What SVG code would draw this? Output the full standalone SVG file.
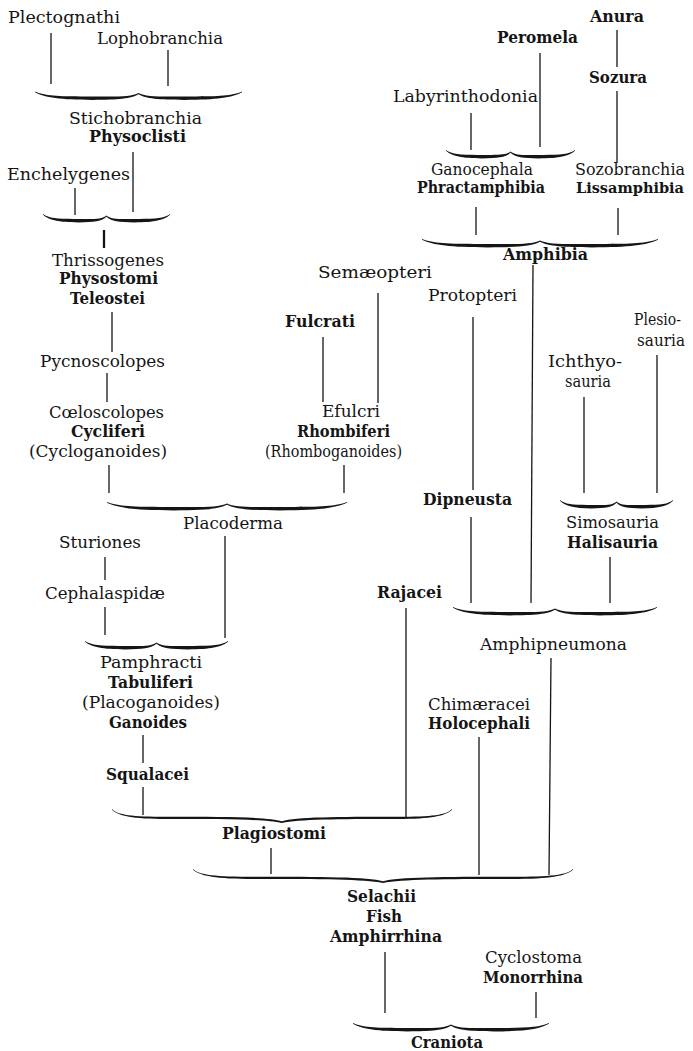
<svg xmlns="http://www.w3.org/2000/svg" width="693" height="1051" viewBox="0 0 693 1051">
<style>
text{font-family:"DejaVu Serif","Liberation Serif",serif;fill:#151515;font-size:17px}
text.b{font-weight:bold;font-size:16px}
text.s{font-size:14.5px}
.c line{stroke:#151515;stroke-width:1.3;fill:none}
.c use{fill:#151515}
</style>
<defs>
<path id="braceUp" d="M0,-7 C5,-2.4 12,-2 28,-2.1 C40,-2 46.5,-1.6 50,-5.6 C53.5,-1.6 60,-2 72,-2.1 C88,-2 95,-2.4 100,-7 L100,-6.2 C95,-0.8 88,1.4 72,1.4 C60,1.3 53.5,0.3 50,-4.2 C46.5,0.3 40,1.3 28,1.4 C12,1.4 5,-0.8 0,-6.2 Z"/>
<path id="braceDown" d="M0,-9 C1.5,-3 6,-1.2 16,-1.2 C34,-1.2 46,-1 50,3.2 C54,-1 66,-1.2 84,-1.2 C94,-1.2 98.5,-3 100,-9 L100,-8.2 C98,-2 94,1 84,1 C66,1 55,1.2 50,5 C45,1.2 34,1 16,1 C6,1 2,-2 0,-8.2 Z"/>
</defs>
<rect width="693" height="1051" fill="#fff"/>
<g class="c" id="connectors">
<line x1="51" y1="33" x2="51" y2="84"/>
<line x1="168" y1="50" x2="168" y2="86"/>
<use href="#braceUp" transform="translate(35,98.5) scale(2.07,1)"/>
<line x1="133" y1="152" x2="133" y2="212"/>
<line x1="75" y1="188" x2="75" y2="215"/>
<use href="#braceUp" transform="translate(43,221) scale(1.27,1)"/>
<line x1="104" y1="230" x2="104" y2="248" style="stroke-width:2.3"/>
<line x1="112" y1="312" x2="112" y2="352"/>
<line x1="107" y1="373" x2="107" y2="402"/>
<line x1="109" y1="465" x2="109" y2="493"/>
<line x1="323" y1="337" x2="323" y2="402"/>
<line x1="378" y1="293" x2="378" y2="403"/>
<line x1="344" y1="465" x2="344" y2="493"/>
<use href="#braceUp" transform="translate(107,509) scale(2.4,1)"/>
<line x1="225" y1="536" x2="225" y2="638"/>
<line x1="105" y1="557" x2="105" y2="580"/>
<line x1="105" y1="607" x2="105" y2="635"/>
<use href="#braceUp" transform="translate(85,648) scale(1.43,1)"/>
<line x1="143" y1="735" x2="143" y2="763"/>
<line x1="143" y1="787" x2="143" y2="815"/>
<line x1="406" y1="608" x2="406" y2="817"/>
<use href="#braceDown" transform="translate(112,818) scale(3.4,1)"/>
<line x1="271" y1="848" x2="271" y2="874"/>
<line x1="479" y1="737" x2="479" y2="875"/>
<line x1="551" y1="658" x2="549" y2="875"/>
<use href="#braceDown" transform="translate(193,878) scale(3.8,1)"/>
<line x1="385" y1="952" x2="385" y2="1013"/>
<line x1="536" y1="992" x2="536" y2="1018"/>
<use href="#braceUp" transform="translate(353,1030) scale(1.96,1)"/>
<line x1="617" y1="30" x2="617" y2="67"/>
<line x1="617" y1="91" x2="617" y2="163"/>
<line x1="540" y1="53" x2="540" y2="147"/>
<line x1="471" y1="113" x2="471" y2="150"/>
<use href="#braceUp" transform="translate(446,157) scale(1.29,1)"/>
<line x1="476" y1="207" x2="476" y2="235"/>
<line x1="618" y1="208" x2="618" y2="235"/>
<use href="#braceUp" transform="translate(422,246) scale(2.36,1)"/>
<line x1="533" y1="265" x2="531" y2="603"/>
<line x1="473" y1="317" x2="473" y2="490"/>
<line x1="471" y1="517" x2="471" y2="603"/>
<line x1="657" y1="355" x2="657" y2="493"/>
<line x1="584" y1="397" x2="584" y2="493"/>
<use href="#braceUp" transform="translate(560,507) scale(1.13,1)"/>
<line x1="610" y1="557" x2="610" y2="603"/>
<use href="#braceUp" transform="translate(453,614) scale(2.04,1)"/>
</g>
<g id="n-plectognathi"><text x="8" y="23" textLength="112" lengthAdjust="spacingAndGlyphs">Plectognathi</text></g>
<g id="n-lophobranchia"><text x="97" y="44" textLength="126" lengthAdjust="spacingAndGlyphs">Lophobranchia</text></g>
<g id="n-stichobranchia"><text x="69" y="124" textLength="133" lengthAdjust="spacingAndGlyphs">Stichobranchia</text><text class="b" x="89" y="142" textLength="97" lengthAdjust="spacingAndGlyphs">Physoclisti</text></g>
<g id="n-enchelygenes"><text x="7" y="180" textLength="123" lengthAdjust="spacingAndGlyphs">Enchelygenes</text></g>
<g id="n-thrissogenes"><text x="52" y="266" textLength="112" lengthAdjust="spacingAndGlyphs">Thrissogenes</text><text class="b" x="59" y="284" textLength="99" lengthAdjust="spacingAndGlyphs">Physostomi</text><text class="b" x="70" y="304" textLength="75" lengthAdjust="spacingAndGlyphs">Teleostei</text></g>
<g id="n-pycnoscolopes"><text x="40" y="367" textLength="125" lengthAdjust="spacingAndGlyphs">Pycnoscolopes</text></g>
<g id="n-coeloscolopes"><text x="49" y="418" textLength="115" lengthAdjust="spacingAndGlyphs">Cœloscolopes</text><text class="b" x="71" y="437" textLength="74" lengthAdjust="spacingAndGlyphs">Cycliferi</text><text x="29" y="457" textLength="138" lengthAdjust="spacingAndGlyphs">(Cycloganoides)</text></g>
<g id="n-semaeopteri"><text x="318" y="278" textLength="114" lengthAdjust="spacingAndGlyphs">Semæopteri</text></g>
<g id="n-fulcrati"><text class="b" x="285" y="327" textLength="70" lengthAdjust="spacingAndGlyphs">Fulcrati</text></g>
<g id="n-efulcri"><text x="322" y="417" textLength="58" lengthAdjust="spacingAndGlyphs">Efulcri</text><text class="b" x="297" y="437" textLength="93" lengthAdjust="spacingAndGlyphs">Rhombiferi</text><text x="265" y="457" textLength="137" lengthAdjust="spacingAndGlyphs">(Rhomboganoides)</text></g>
<g id="n-placoderma"><text x="183" y="529" textLength="100" lengthAdjust="spacingAndGlyphs">Placoderma</text></g>
<g id="n-sturiones"><text x="59" y="548" textLength="82" lengthAdjust="spacingAndGlyphs">Sturiones</text></g>
<g id="n-cephalaspidae"><text x="45" y="599" textLength="120" lengthAdjust="spacingAndGlyphs">Cephalaspidæ</text></g>
<g id="n-pamphracti"><text x="100" y="668" textLength="102" lengthAdjust="spacingAndGlyphs">Pamphracti</text><text class="b" x="108" y="688" textLength="85" lengthAdjust="spacingAndGlyphs">Tabuliferi</text><text x="82" y="708" textLength="138" lengthAdjust="spacingAndGlyphs">(Placoganoides)</text><text class="b" x="109" y="728" textLength="78" lengthAdjust="spacingAndGlyphs">Ganoides</text></g>
<g id="n-squalacei"><text class="b" x="106" y="780" textLength="83" lengthAdjust="spacingAndGlyphs">Squalacei</text></g>
<g id="n-rajacei"><text class="b" x="377" y="598" textLength="65" lengthAdjust="spacingAndGlyphs">Rajacei</text></g>
<g id="n-plagiostomi"><text class="b" x="222" y="839" textLength="104" lengthAdjust="spacingAndGlyphs">Plagiostomi</text></g>
<g id="n-chimaeracei"><text x="428" y="710" textLength="102" lengthAdjust="spacingAndGlyphs">Chimæracei</text><text class="b" x="428" y="729" textLength="102" lengthAdjust="spacingAndGlyphs">Holocephali</text></g>
<g id="n-selachii"><text class="b" x="347" y="902" textLength="69" lengthAdjust="spacingAndGlyphs">Selachii</text><text class="b" x="366" y="922" textLength="36" lengthAdjust="spacingAndGlyphs">Fish</text><text class="b" x="330" y="942" textLength="112" lengthAdjust="spacingAndGlyphs">Amphirrhina</text></g>
<g id="n-cyclostoma"><text x="485" y="963" textLength="97" lengthAdjust="spacingAndGlyphs">Cyclostoma</text><text class="b" x="483" y="983" textLength="100" lengthAdjust="spacingAndGlyphs">Monorrhina</text></g>
<g id="n-craniota"><text class="b" x="411" y="1048" textLength="72" lengthAdjust="spacingAndGlyphs">Craniota</text></g>
<g id="n-anura"><text class="b" x="590" y="22" textLength="54" lengthAdjust="spacingAndGlyphs">Anura</text></g>
<g id="n-peromela"><text class="b" x="497" y="43" textLength="81" lengthAdjust="spacingAndGlyphs">Peromela</text></g>
<g id="n-sozura"><text class="b" x="589" y="83" textLength="58" lengthAdjust="spacingAndGlyphs">Sozura</text></g>
<g id="n-labyrinthodonia"><text x="393" y="102" textLength="145" lengthAdjust="spacingAndGlyphs">Labyrinthodonia</text></g>
<g id="n-ganocephala"><text x="431" y="175" textLength="102" lengthAdjust="spacingAndGlyphs">Ganocephala</text><text class="b" x="417" y="193" textLength="128" lengthAdjust="spacingAndGlyphs">Phractamphibia</text></g>
<g id="n-sozobranchia"><text x="575" y="175" textLength="110" lengthAdjust="spacingAndGlyphs">Sozobranchia</text><text class="b s" x="576" y="193" textLength="108" lengthAdjust="spacingAndGlyphs">Lissamphibia</text></g>
<g id="n-amphibia"><text class="b" x="503" y="260" textLength="85" lengthAdjust="spacingAndGlyphs">Amphibia</text></g>
<g id="n-protopteri"><text x="428" y="301" textLength="89" lengthAdjust="spacingAndGlyphs">Protopteri</text></g>
<g id="n-dipneusta"><text class="b" x="423" y="505" textLength="89" lengthAdjust="spacingAndGlyphs">Dipneusta</text></g>
<g id="n-plesiosauria"><text x="634" y="325" textLength="47" lengthAdjust="spacingAndGlyphs">Plesio-</text><text x="637" y="346" textLength="48" lengthAdjust="spacingAndGlyphs">sauria</text></g>
<g id="n-ichthyosauria"><text x="548" y="367" textLength="74" lengthAdjust="spacingAndGlyphs">Ichthyo-</text><text x="565" y="387" textLength="46" lengthAdjust="spacingAndGlyphs">sauria</text></g>
<g id="n-simosauria"><text x="566" y="528" textLength="93" lengthAdjust="spacingAndGlyphs">Simosauria</text><text class="b" x="567" y="548" textLength="91" lengthAdjust="spacingAndGlyphs">Halisauria</text></g>
<g id="n-amphipneumona"><text x="480" y="650" textLength="147" lengthAdjust="spacingAndGlyphs">Amphipneumona</text></g>
</svg>
